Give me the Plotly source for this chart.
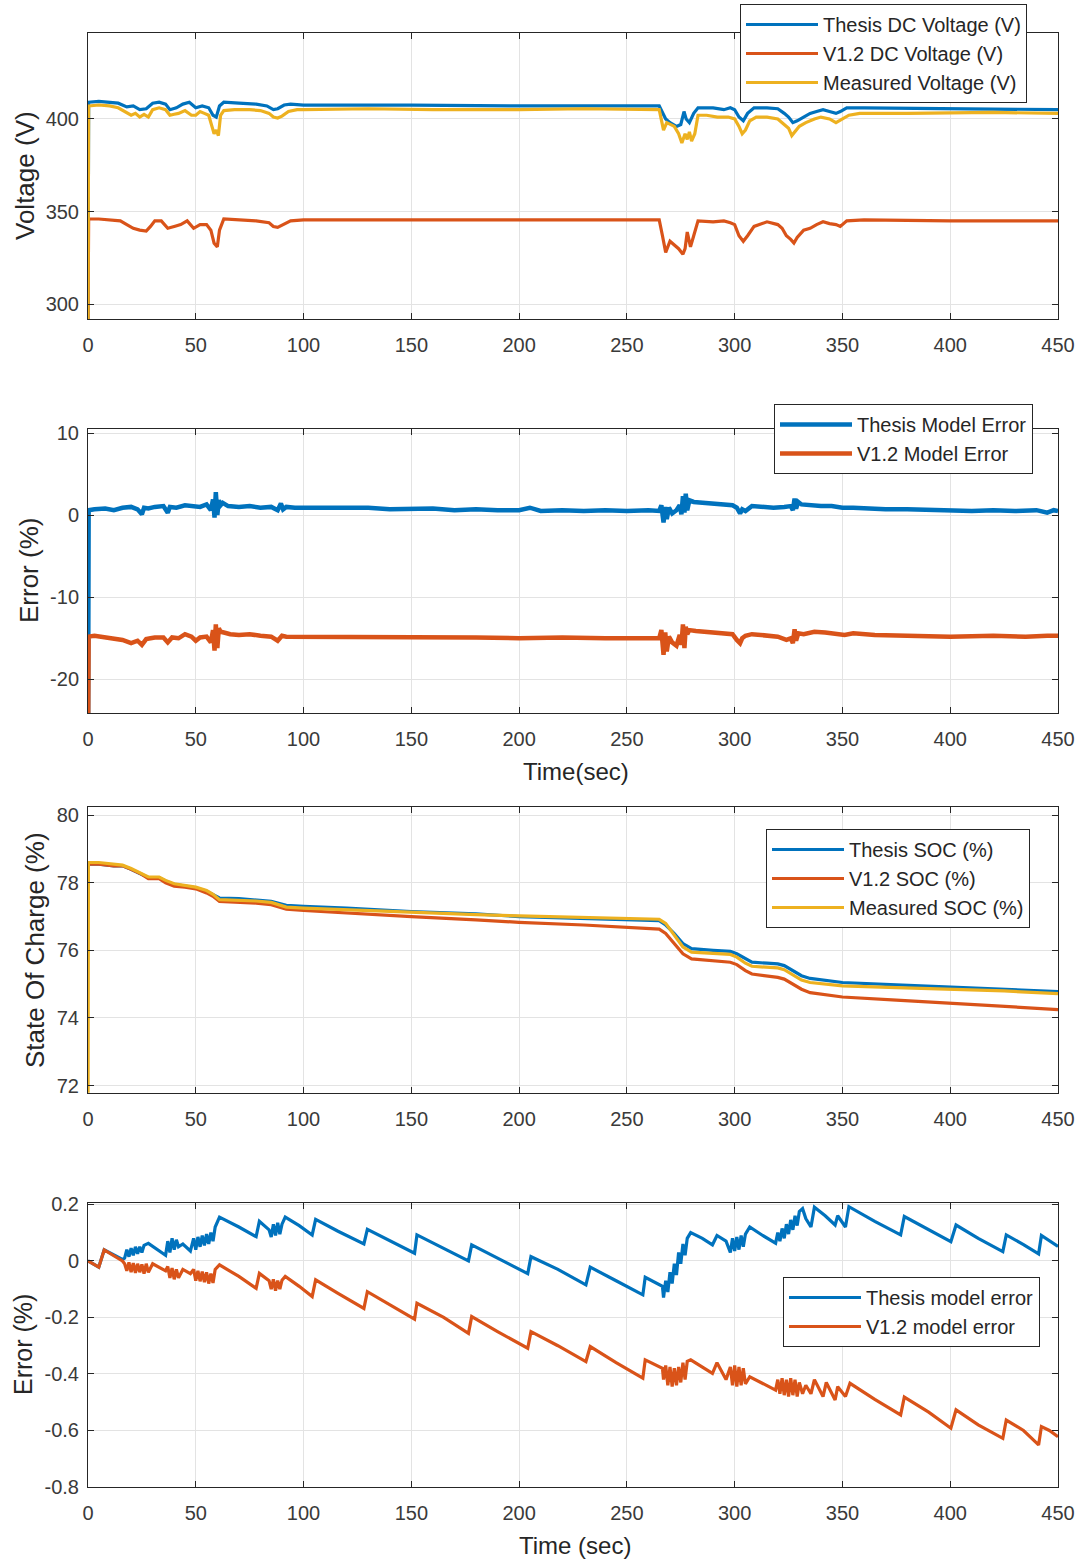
import plotly.graph_objects as go

# ---------------- data ----------------
time_ticks = [0, 50, 100, 150, 200, 250, 300, 350, 400, 450]
time_tick_text = ["0", "50", "100", "150", "200", "250", "300", "350", "400", "450"]

volt_ticks = [300, 350, 400]
volt_tick_text = ["300", "350", "400"]
err_ticks = [-20, -10, 0, 10]
err_tick_text = ["-20", "-10", "0", "10"]
soc_ticks = [72, 74, 76, 78, 80]
soc_tick_text = ["72", "74", "76", "78", "80"]
socerr_ticks = [-0.8, -0.6, -0.4, -0.2, 0, 0.2]
socerr_tick_text = ["-0.8", "-0.6", "-0.4", "-0.2", "0", "0.2"]

# Panel 1 : DC voltage (time s, volts)
volt_thesis = [
    (0, 290), (0.3, 409), (5, 409.5), (10, 409), (14, 408.5), (18, 406.5), (21, 407), (24, 405),
    (27, 405.5), (30, 408.5), (33, 409), (36, 408), (38, 405), (41, 406), (44, 408), (47, 409),
    (50, 406), (53, 407), (56, 406), (58, 402), (59.5, 401), (61, 407), (63, 409), (70, 408.5),
    (78, 408), (83, 407), (86, 405), (88, 405.5), (91, 407.5), (94, 408), (100, 407.5),
    (150, 407.5), (200, 407), (265, 407), (266.5, 403), (268, 400), (270, 398), (273, 396),
    (275, 397), (276.5, 404), (277.5, 400), (279, 398), (281, 403), (283, 406), (290, 406),
    (295, 405), (298, 406), (300, 405), (302, 401), (304, 399), (306, 403), (309, 406),
    (315, 406), (320, 405.5), (323, 403), (325, 401), (327, 398), (329, 399), (332, 401),
    (335, 403), (338, 404), (341, 405), (344, 404), (347, 403), (349, 404), (352, 406),
    (360, 406), (400, 405.5), (450, 405),
]
volt_v12 = [
    (0, 290), (0.3, 346), (5, 346), (10, 345.5), (15, 345), (18, 343), (21, 341), (24, 340),
    (27, 339.5), (29, 342), (31, 345), (34, 345), (37, 341), (40, 342), (43, 343), (46, 345),
    (49, 341), (52, 343), (55, 343), (57, 340), (58.5, 333), (60, 331), (61, 340), (63, 346),
    (70, 345.5), (78, 345), (84, 344), (86, 342), (88, 341.5), (91, 343.5), (94, 345),
    (100, 345.5), (150, 345.5), (200, 345.5), (265, 345.5), (266.5, 337), (268, 328),
    (270, 334), (272, 332), (274, 330), (276, 327), (277, 330), (278, 339), (279.5, 331),
    (281, 337), (283, 345), (290, 344.5), (295, 345), (298, 344), (300, 343), (302, 337),
    (304, 334), (306, 337), (309, 342), (315, 344.5), (320, 343), (322, 341), (324, 337),
    (326, 335), (327.5, 333), (329, 336), (332, 340), (335, 341), (338, 343), (341, 344.5),
    (344, 343.5), (347, 343), (349, 342), (352, 345), (360, 345.5), (400, 345), (450, 345),
]
volt_measured = [
    (0, 290), (0.3, 407), (5, 407.5), (10, 407), (14, 406), (17, 404), (20, 402), (22, 403),
    (24, 401), (26, 402.5), (28, 401), (30, 405), (33, 406), (36, 405), (38, 402), (40, 402.5),
    (42, 403), (45, 404.5), (48, 402), (50, 402), (52, 404), (54, 403), (56, 402), (57.5, 396),
    (58.5, 392), (59.5, 394), (60.5, 391), (61.5, 402), (63, 404.5), (68, 405), (75, 405),
    (80, 404.5), (84, 403), (86, 401), (88, 400.5), (90, 401.5), (93, 404), (97, 405),
    (100, 405), (130, 405.5), (160, 405), (200, 405), (230, 405.5), (265, 405), (266, 400),
    (267, 394), (268.5, 398), (270, 397), (272, 396), (274, 392), (275.5, 387), (277, 392),
    (278, 389), (279, 393), (280, 388), (281.5, 392), (283, 402), (287, 402), (292, 401),
    (297, 401), (300, 400), (302, 396), (303.5, 392), (305, 394), (307, 399), (310, 401),
    (315, 401), (320, 400), (323, 397), (325, 395), (326.5, 391), (328, 393), (330, 396),
    (333, 398), (337, 400), (340, 401), (344, 400), (347, 398), (350, 400), (353, 402),
    (358, 403), (380, 403), (420, 403.5), (450, 403),
]

# Panel 2 : voltage model error (%)
verr_thesis = [
    (0, -30), (0.3, 0.6), (3, 0.7), (8, 0.8), (12, 0.6), (16, 0.9), (20, 1.0), (23, 0.7),
    (25, 0.1), (26, 0.9), (28, 0.8), (31, 1.0), (35, 1.1), (37, 0.3), (38, 1.0), (41, 0.9),
    (45, 1.2), (48, 1.1), (52, 1.0), (55, 1.3), (57, 0.6), (58, 1.9), (58.7, -0.3), (59.3, 2.8),
    (60, 0.0), (60.7, 1.8), (61.5, 1.2), (62.5, 1.5), (65, 1.1), (70, 1.0), (75, 1.1), (80, 0.9),
    (85, 1.0), (88, 0.6), (89.5, 1.4), (90.5, 0.7), (92, 1.0), (96, 0.9), (100, 0.9),
    (110, 0.8), (120, 0.8), (130, 0.9), (140, 0.7), (150, 0.7), (160, 0.8), (170, 0.6),
    (180, 0.7), (190, 0.6), (200, 0.6), (205, 0.9), (210, 0.5), (220, 0.6), (230, 0.5),
    (240, 0.6), (250, 0.5), (260, 0.6), (265, 0.5), (266, 1.2), (267, -0.9), (267.8, 1.0),
    (268.5, -0.5), (269.5, 0.9), (271, 0.2), (273, 0.6), (274.5, 1.2), (275.3, 0.1),
    (276, 2.3), (276.7, 0.3), (277.3, 2.6), (278, 0.6), (279, 1.8), (281, 1.6), (285, 1.5),
    (290, 1.3), (295, 1.2), (299, 1.2), (301, 0.9), (302.5, 0.2), (303.5, 0.7), (305, 0.5),
    (308, 1.1), (312, 1.0), (318, 0.9), (323, 1.0), (326, 1.1), (327, 0.6), (327.8, 2.0),
    (328.5, 0.8), (329.5, 1.6), (331, 1.3), (335, 1.2), (340, 1.1), (345, 1.1), (350, 0.9),
    (355, 0.9), (360, 0.8), (370, 0.7), (380, 0.7), (390, 0.6), (400, 0.6), (410, 0.5),
    (420, 0.6), (430, 0.5), (440, 0.6), (445, 0.3), (448, 0.6), (450, 0.5),
]
verr_v12 = [
    (0, -30), (0.3, -14.8), (3, -14.7), (8, -14.9), (12, -15.0), (16, -15.2), (20, -15.6),
    (23, -15.3), (25, -15.8), (27, -15.1), (29, -15.0), (31, -14.9), (35, -14.9), (37, -15.5),
    (39, -14.9), (42, -15.0), (45, -14.5), (48, -14.8), (50, -15.3), (52, -14.9), (55, -14.8),
    (57, -15.5), (58, -14.0), (58.7, -16.5), (59.3, -13.3), (60, -16.2), (60.7, -13.8),
    (61.5, -14.2), (63, -14.3), (66, -14.5), (70, -14.6), (75, -14.5), (80, -14.7), (85, -14.8),
    (88, -15.3), (90, -14.7), (92, -14.8), (96, -14.8), (100, -14.8), (120, -14.9), (140, -14.8),
    (160, -14.9), (180, -14.9), (200, -15.0), (220, -14.9), (240, -15.0), (260, -14.9),
    (265, -15.0), (266, -14.0), (267, -17.0), (267.8, -14.3), (268.5, -16.6), (269.5, -14.8),
    (271, -15.5), (273, -15.9), (274.5, -14.6), (275.3, -15.8), (276, -13.3), (276.7, -16.2),
    (277.3, -13.6), (278, -14.5), (279, -14.0), (282, -14.1), (288, -14.2), (295, -14.3),
    (299, -14.5), (301, -15.2), (302.5, -15.6), (303.5, -15.0), (305, -14.7), (308, -14.5),
    (314, -14.6), (320, -14.8), (324, -15.2), (326, -15.0), (327, -15.6), (327.8, -13.9),
    (328.5, -15.3), (329.5, -14.4), (332, -14.5), (337, -14.2), (342, -14.3), (348, -14.5),
    (351, -14.6), (355, -14.4), (365, -14.6), (380, -14.7), (400, -14.8), (420, -14.7),
    (435, -14.8), (445, -14.7), (450, -14.7),
]

# Panel 3 : state of charge (%)
soc_thesis = [
    (0, 78.55), (5, 78.55), (12, 78.5), (16, 78.5), (20, 78.4), (25, 78.25), (28, 78.15),
    (33, 78.15), (36, 78.05), (40, 77.95), (45, 77.9), (50, 77.85), (55, 77.75), (58, 77.65),
    (61, 77.55), (70, 77.53), (78, 77.5), (85, 77.45), (88, 77.4), (92, 77.33), (100, 77.3),
    (120, 77.25), (150, 77.15), (180, 77.08), (200, 77.0), (230, 76.95), (265, 76.88),
    (268, 76.75), (272, 76.5), (276, 76.2), (280, 76.05), (290, 76.0), (298, 75.97),
    (301, 75.9), (305, 75.75), (308, 75.65), (315, 75.62), (320, 75.6), (323, 75.55),
    (327, 75.4), (331, 75.25), (335, 75.17), (345, 75.08), (350, 75.05), (375, 74.98),
    (400, 74.92), (425, 74.86), (450, 74.78),
]
soc_v12 = [
    (0, 78.55), (5, 78.55), (12, 78.5), (16, 78.5), (20, 78.4), (25, 78.25), (28, 78.12),
    (33, 78.12), (36, 78.0), (40, 77.9), (45, 77.87), (50, 77.82), (55, 77.7), (58, 77.6),
    (61, 77.45), (70, 77.43), (78, 77.4), (85, 77.35), (88, 77.3), (92, 77.22), (100, 77.18),
    (120, 77.1), (150, 77.0), (180, 76.9), (200, 76.83), (230, 76.75), (265, 76.63),
    (268, 76.5), (272, 76.2), (276, 75.9), (280, 75.75), (290, 75.7), (298, 75.65),
    (301, 75.58), (305, 75.4), (308, 75.3), (315, 75.25), (320, 75.2), (323, 75.15),
    (327, 75.0), (331, 74.85), (335, 74.75), (345, 74.65), (350, 74.62), (375, 74.53),
    (400, 74.44), (425, 74.35), (450, 74.25),
]
soc_measured = [
    (0, 70), (0.2, 78.6), (5, 78.6), (12, 78.55), (16, 78.52), (20, 78.42), (25, 78.27),
    (28, 78.17), (33, 78.17), (36, 78.07), (40, 77.97), (45, 77.92), (50, 77.87), (55, 77.77),
    (58, 77.66), (61, 77.5), (70, 77.48), (78, 77.46), (85, 77.42), (88, 77.35), (92, 77.28),
    (100, 77.25), (120, 77.2), (150, 77.12), (180, 77.06), (200, 77.02), (230, 76.98),
    (265, 76.92), (268, 76.8), (272, 76.45), (276, 76.1), (280, 75.95), (290, 75.9),
    (298, 75.88), (301, 75.8), (305, 75.62), (308, 75.53), (315, 75.5), (320, 75.48),
    (323, 75.43), (327, 75.28), (331, 75.12), (335, 75.05), (345, 74.98), (350, 74.95),
    (375, 74.9), (400, 74.86), (425, 74.8), (450, 74.72),
]

# Panel 4 : SOC model error (%)
socerr_thesis = [
    (0, 0.0), (5, -0.022), (7.5, 0.039), (12, 0.02), (16, 0.005), (17, 0.01), (18, 0.04),
    (19, 0.015), (20, 0.045), (21, 0.02), (22, 0.05), (23, 0.025), (24, 0.05), (25, 0.03),
    (26, 0.055), (28, 0.062), (32, 0.04), (36, 0.02), (37, 0.07), (38, 0.03), (39, 0.08),
    (40, 0.04), (41, 0.075), (42, 0.05), (44, 0.06), (47.5, 0.035), (49, 0.08), (50, 0.04),
    (51, 0.085), (52, 0.05), (53, 0.09), (54, 0.055), (55, 0.095), (56, 0.06), (57, 0.1),
    (58, 0.07), (59, 0.12), (61, 0.155), (70, 0.12), (78, 0.086), (79.5, 0.14), (84, 0.11),
    (85, 0.085), (86, 0.13), (87, 0.09), (88, 0.135), (89, 0.095), (90, 0.13), (91.5, 0.155),
    (98, 0.125), (104, 0.092), (105.6, 0.147), (116, 0.105), (128, 0.06), (129.6, 0.112),
    (140, 0.072), (151.5, 0.027), (152.6, 0.092), (165, 0.045), (176.5, 0.0), (178, 0.057),
    (190, 0.01), (204, -0.045), (205.5, 0.015), (218, -0.03), (231, -0.085), (233, -0.022),
    (245, -0.07), (257.4, -0.12), (258.5, -0.058), (266.5, -0.09), (267, -0.13), (268, -0.07),
    (269, -0.11), (270, -0.04), (271, -0.08), (272, -0.01), (273, -0.05), (274, 0.03),
    (275, -0.01), (276, 0.06), (277, 0.02), (278, 0.08), (279.6, 0.1), (285, 0.08),
    (289.7, 0.057), (291.8, 0.09), (296, 0.07), (298, 0.03), (299, 0.08), (300, 0.035),
    (301, 0.085), (302, 0.04), (303, 0.09), (304, 0.05), (305, 0.095), (307, 0.12),
    (313, 0.09), (319, 0.063), (320, 0.1), (321, 0.07), (322, 0.115), (323, 0.08),
    (324, 0.13), (325, 0.095), (326, 0.145), (327, 0.11), (328, 0.16), (329, 0.125),
    (330, 0.175), (331.5, 0.185), (333, 0.15), (335.4, 0.12), (337, 0.19), (342, 0.16),
    (346.6, 0.127), (347.8, 0.16), (351.4, 0.12), (353, 0.192), (365, 0.14), (377, 0.092),
    (378.7, 0.157), (390, 0.11), (400.3, 0.068), (402.7, 0.127), (413, 0.08), (424.4, 0.033),
    (426, 0.092), (434, 0.058), (441, 0.025), (442.3, 0.09), (446, 0.07), (450, 0.051),
]
socerr_v12 = [
    (0, 0.0), (5, -0.022), (7.5, 0.039), (12, 0.02), (16, 0.0), (17, -0.01), (18, -0.035),
    (19, -0.005), (20, -0.04), (21, -0.008), (22, -0.042), (23, -0.01), (24, -0.04),
    (25, -0.012), (26, -0.045), (27, -0.01), (28, -0.04), (30, -0.01), (36, -0.035),
    (37, -0.02), (38, -0.06), (39, -0.025), (40, -0.065), (41, -0.03), (42, -0.06),
    (44, -0.03), (47.5, -0.045), (49, -0.03), (50, -0.07), (51, -0.035), (52, -0.072),
    (53, -0.038), (54, -0.075), (55, -0.04), (56, -0.08), (57, -0.045), (58, -0.078),
    (59, -0.03), (61, -0.014), (70, -0.055), (78, -0.097), (79.5, -0.044), (84, -0.07),
    (85, -0.1), (86, -0.065), (87, -0.105), (88, -0.07), (89, -0.1), (90, -0.068),
    (91.5, -0.055), (98, -0.09), (104, -0.126), (105.6, -0.067), (116, -0.115), (128, -0.168),
    (129.6, -0.109), (140, -0.155), (151.5, -0.206), (152.6, -0.15), (165, -0.2),
    (176.5, -0.256), (178, -0.197), (190, -0.25), (204, -0.309), (205.5, -0.25), (218, -0.3),
    (231, -0.356), (233, -0.303), (245, -0.36), (257.4, -0.415), (258.5, -0.35),
    (266.5, -0.38), (267, -0.42), (268, -0.37), (269, -0.44), (270, -0.375), (271, -0.445),
    (272, -0.38), (273, -0.44), (274, -0.375), (275, -0.43), (276, -0.36), (277, -0.42),
    (278, -0.355), (279.6, -0.35), (285, -0.375), (289.7, -0.398), (291.8, -0.36),
    (296, -0.42), (298, -0.375), (299, -0.44), (300, -0.37), (301, -0.445), (302, -0.375),
    (303, -0.44), (304, -0.38), (305, -0.435), (307, -0.41), (313, -0.435), (319, -0.457),
    (320, -0.42), (321, -0.47), (322, -0.415), (323, -0.475), (324, -0.42), (325, -0.48),
    (326, -0.415), (327, -0.475), (328, -0.42), (329, -0.48), (330, -0.43), (331.5, -0.47),
    (333, -0.44), (335.4, -0.47), (337, -0.42), (341, -0.48), (342.5, -0.43), (346.6, -0.492),
    (347.8, -0.445), (351.4, -0.48), (353.5, -0.433), (365, -0.49), (377, -0.545),
    (378.7, -0.482), (390, -0.535), (400.3, -0.592), (402.7, -0.527), (413, -0.58),
    (424.4, -0.628), (426, -0.563), (434, -0.6), (441, -0.651), (442.3, -0.586), (446, -0.6),
    (450, -0.622),
]

# ---------------- figure ----------------
W, H = 1081, 1561
BLUE, ORANGE, YELLOW = "#0072BD", "#D95319", "#EDB120"
TXT = "#262626"
FONT = "Liberation Sans, Arial, sans-serif"

fig = go.Figure()

line_widths = {1: 3.2, 2: 4.5, 3: 3.2, 4: 3.2}


def add(series, name, color, n, legend):
    fig.add_trace(go.Scatter(
        x=[p[0] for p in series], y=[p[1] for p in series], mode="lines", name=name,
        line=dict(color=color, width=line_widths[n]), xaxis="x" if n == 1 else f"x{n}",
        yaxis="y" if n == 1 else f"y{n}", legend=legend, showlegend=True))


add(volt_thesis, "Thesis DC Voltage (V)", BLUE, 1, "legend")
add(volt_v12, "V1.2 DC Voltage (V)", ORANGE, 1, "legend")
add(volt_measured, "Measured Voltage (V)", YELLOW, 1, "legend")
add(verr_thesis, "Thesis Model Error", BLUE, 2, "legend2")
add(verr_v12, "V1.2 Model Error", ORANGE, 2, "legend2")
add(soc_thesis, "Thesis SOC (%)", BLUE, 3, "legend3")
add(soc_v12, "V1.2 SOC (%)", ORANGE, 3, "legend3")
add(soc_measured, "Measured SOC (%)", YELLOW, 3, "legend3")
add(socerr_thesis, "Thesis model error", BLUE, 4, "legend4")
add(socerr_v12, "V1.2 model error", ORANGE, 4, "legend4")

left, right = 88, 1058
panels = [  # (top px, bottom px)
    (33.3, 319.3), (429.3, 713.0), (806.7, 1092.7), (1203.0, 1487.0)
]
yranges = [[291.9, 446.2], [-24.1, 10.45], [71.79, 80.25], [-0.8, 0.205]]
yticks = [(volt_ticks, volt_tick_text), (err_ticks, err_tick_text),
          (soc_ticks, soc_tick_text), (socerr_ticks, socerr_tick_text)]

axis_common = dict(
    showline=True, linecolor=TXT, linewidth=1, mirror="ticks", ticks="inside",
    ticklen=6, tickcolor=TXT, showgrid=True, gridcolor="#e3e3e3", gridwidth=1,
    zeroline=False, automargin=False,
    tickfont=dict(family=FONT, size=20, color="#3a3a3a"),
)

layout = dict(
    template="none",
    width=W, height=H, margin=dict(l=0, r=0, t=0, b=0, pad=0, autoexpand=False),
    paper_bgcolor="white", plot_bgcolor="white",
    font=dict(family=FONT, color=TXT),
)
for i, (top, bot) in enumerate(panels):
    n = i + 1
    xk = "xaxis" if n == 1 else f"xaxis{n}"
    yk = "yaxis" if n == 1 else f"yaxis{n}"
    layout[xk] = dict(axis_common, domain=[left / W, right / W], range=[0, 450],
                      tickvals=time_ticks, ticktext=time_tick_text,
                      anchor="y" if n == 1 else f"y{n}", ticklabelstandoff=8)
    layout[yk] = dict(axis_common, domain=[1 - bot / H, 1 - top / H], range=yranges[i],
                      tickvals=yticks[i][0], ticktext=yticks[i][1],
                      anchor="x" if n == 1 else f"x{n}", ticklabelstandoff=4)

leg_common = dict(bgcolor="white", bordercolor=TXT, borderwidth=1,
                  font=dict(family=FONT, size=20, color=TXT), xanchor="left",
                  yanchor="top", itemwidth=72, tracegroupgap=0)
legend_boxes = [(740, 4), (774, 404), (766, 829), (783, 1277)]
for i, (lx, ly) in enumerate(legend_boxes):
    key = "legend" if i == 0 else f"legend{i + 1}"
    layout[key] = dict(leg_common, x=lx / W, y=1 - ly / H)

fig.update_layout(**layout)

# axis titles
titles = [
    dict(text="Voltage (V)", x=25, y=176, angle=-90, size=26),
    dict(text="Error (%)", x=29, y=571, angle=-90, size=26),
    dict(text="State Of Charge (%)", x=35, y=950, angle=-90, size=26),
    dict(text="Error (%)", x=23, y=1345, angle=-90, size=25),
    dict(text="Time(sec)", x=576, y=771, angle=0, size=24),
    dict(text="Time (sec)", x=575, y=1545, angle=0, size=24),
]
for t in titles:
    fig.add_annotation(text=t["text"], xref="paper", yref="paper", x=t["x"] / W,
                       y=1 - t["y"] / H, xanchor="center", yanchor="middle",
                       textangle=t["angle"], showarrow=False,
                       font=dict(family=FONT, size=t["size"], color=TXT))

fig.write_html("out.html")
